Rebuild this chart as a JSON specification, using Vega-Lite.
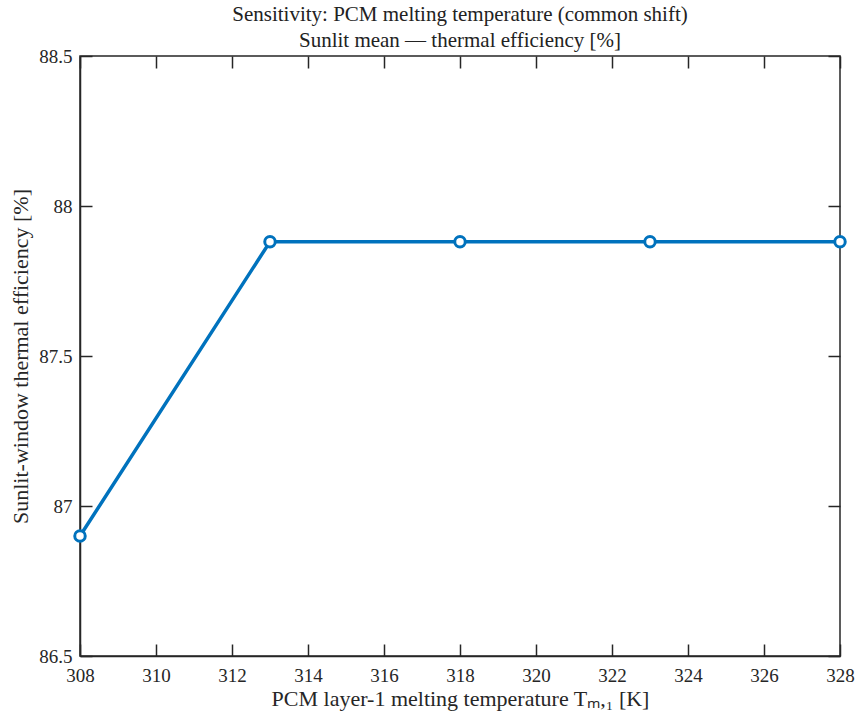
{
  "$schema": "https://vega.github.io/schema/vega-lite/v6.json",
  "width": 760,
  "height": 600,
  "autosize": {"type": "none"},
  "padding": {"left": 80, "top": 56, "right": 18, "bottom": 60},
  "background": "white",
  "title": {
    "text": ["Sensitivity: PCM melting temperature (common shift)", "Sunlit mean — thermal efficiency [%]"],
    "font": "Liberation Serif, Times New Roman, serif",
    "fontSize": 21,
    "fontWeight": "normal",
    "color": "#222",
    "anchor": "middle",
    "lineHeight": 26,
    "offset": -4
  },
  "config": {
    "view": {"stroke": "#262626", "strokeWidth": 1.5},
    "axis": {
      "grid": false,
      "labelFlush": false,
      "labelOverlap": false,
      "domainColor": "#262626",
      "domainWidth": 1.5,
      "tickColor": "#262626",
      "tickWidth": 1.5,
      "tickSize": -12,
      "labelFont": "Liberation Serif, Times New Roman, serif",
      "labelFontSize": 19,
      "labelColor": "#262626",
      "titleFont": "Liberation Serif, Times New Roman, serif",
      "titleFontSize": 22,
      "titleFontWeight": "normal",
      "titleColor": "#262626"
    }
  },
  "data": {
    "values": [
      {"T": 308, "eff": 86.90},
      {"T": 313, "eff": 87.881},
      {"T": 318, "eff": 87.881},
      {"T": 323, "eff": 87.881},
      {"T": 328, "eff": 87.881}
    ]
  },
  "layer": [
    {
      "mark": {"type": "line", "color": "#0072BD", "strokeWidth": 3.5, "clip": false},
      "encoding": {
        "x": {
          "field": "T", "type": "quantitative",
          "scale": {"domain": [308, 328], "nice": false, "zero": false},
          "axis": {"orient": "bottom", "values": [308, 310, 312, 314, 316, 318, 320, 322, 324, 326, 328], "labelFlush": false, "labelPadding": 22, "title": "PCM layer-1 melting temperature Tₘ,₁ [K]", "titlePadding": 3}
        },
        "y": {
          "field": "eff", "type": "quantitative",
          "scale": {"domain": [86.5, 88.5], "nice": false, "zero": false},
          "axis": {"orient": "left", "values": [86.5, 87, 87.5, 88, 88.5], "format": "~g", "labelFlush": false, "labelPadding": 20, "title": "Sunlit-window thermal efficiency [%]", "titlePadding": 6}
        }
      }
    },
    {
      "mark": {"type": "point", "shape": "circle", "filled": false, "fill": "white", "fillOpacity": 1, "stroke": "#0072BD", "strokeWidth": 3, "size": 110, "opacity": 1, "clip": false},
      "encoding": {
        "x": {"field": "T", "type": "quantitative", "axis": {"orient": "top", "labels": false, "title": null, "domain": false, "values": [308, 310, 312, 314, 316, 318, 320, 322, 324, 326, 328]}},
        "y": {"field": "eff", "type": "quantitative", "axis": {"orient": "right", "labels": false, "title": null, "domain": false, "values": [86.5, 87, 87.5, 88, 88.5]}}
      }
    }
  ],
  "resolve": {"axis": {"x": "independent", "y": "independent"}}
}
